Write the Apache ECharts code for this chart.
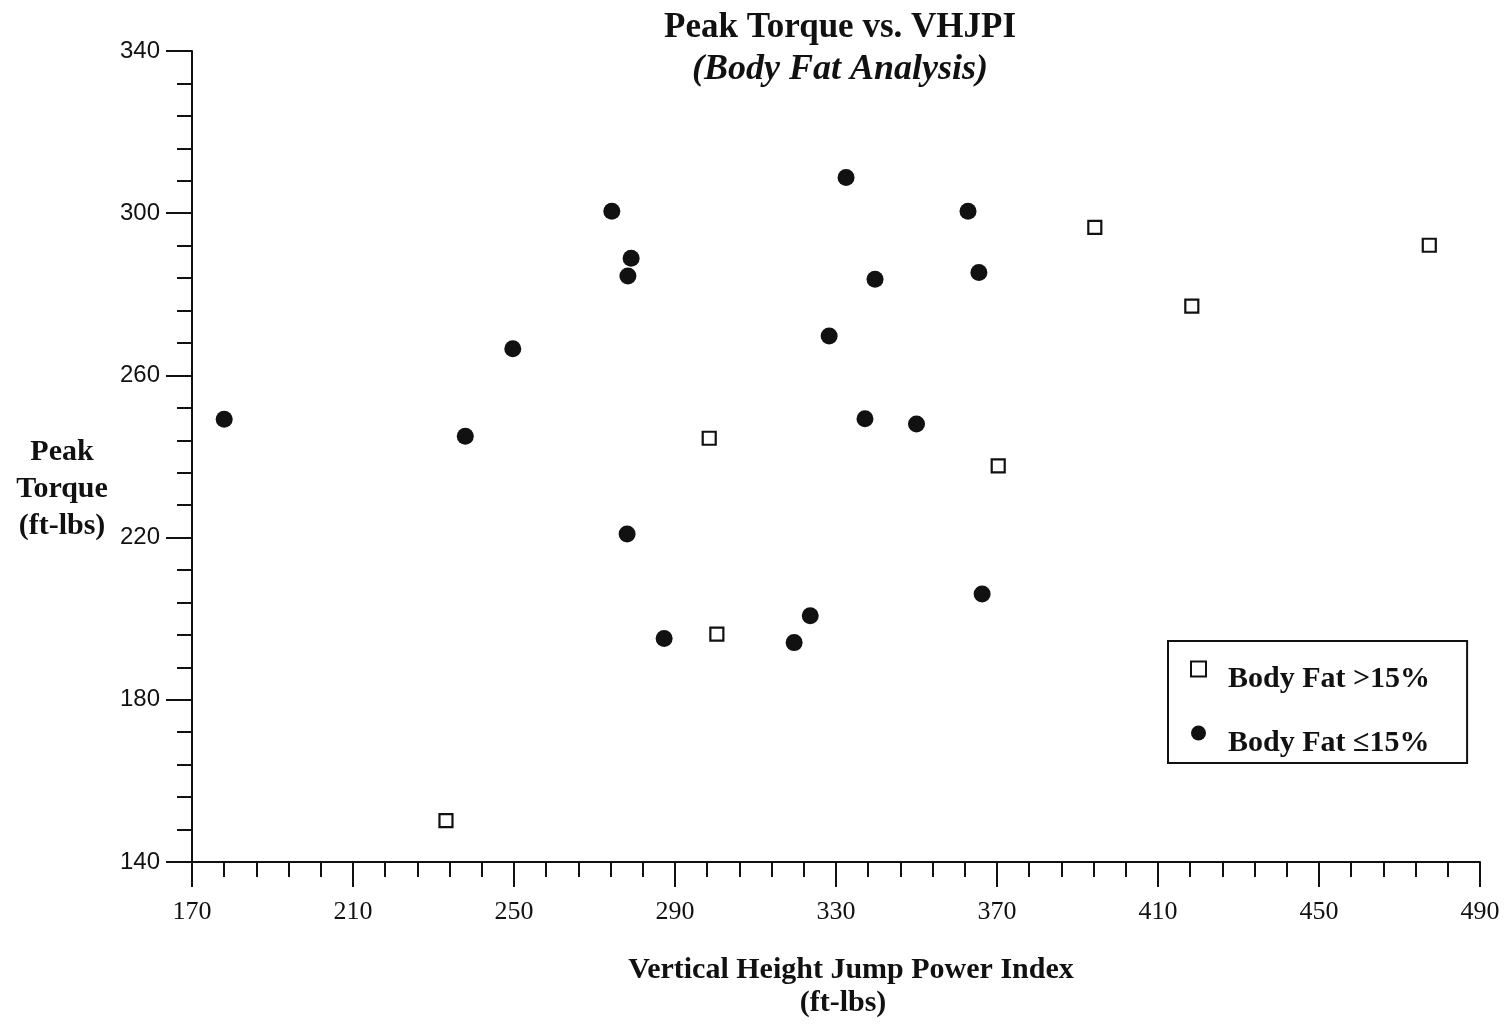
<!DOCTYPE html>
<html>
<head>
<meta charset="utf-8">
<script src="https://cdn.jsdelivr.net/npm/echarts@6/dist/echarts.min.js"></script>
<style>
  html, body { margin: 0; padding: 0; background: #fff; }
  #chart { width: 1507px; height: 1024px; }
</style>
</head>
<body>
<div id="chart"></div>
<script>
// Body Fat <= 15% (filled circles)
const leanX = [178.0, 237.9, 249.7, 274.3, 279.1, 278.3, 278.1, 287.3, 319.6, 323.6, 328.3, 332.5, 337.2, 339.7, 350.0, 362.8, 365.5, 366.3];
const leanY = [249.2, 245.0, 266.6, 300.5, 288.9, 284.5, 220.9, 195.1, 194.1, 200.7, 269.7, 308.8, 249.3, 283.7, 248.0, 300.5, 285.4, 206.1];
// Body Fat > 15% (open squares)
const fatX = [233.1, 298.5, 300.4, 370.3, 394.3, 418.4, 477.4];
const fatY = [150.2, 244.5, 196.2, 237.7, 296.5, 277.1, 292.1];

const xTicks = [170, 210, 250, 290, 330, 370, 410, 450, 490];
const yTicks = [140, 180, 220, 260, 300, 340];

// 5 minor steps between each labelled tick
function minorOf(ticks) {
  const out = [];
  for (let i = 0; i < ticks.length - 1; i++) {
    const step = (ticks[i + 1] - ticks[i]) / 5;
    for (let k = 1; k < 5; k++) out.push(ticks[i] + step * k);
  }
  return out;
}

const ink = '#111';
const serif = '"Liberation Serif", "DejaVu Serif", serif';

const chart = echarts.init(document.getElementById('chart'));

const axisCommon = (min, max) => ({
  type: 'value', min: min, max: max,
  splitLine: { show: false }
});

chart.setOption({
  animation: false,
  backgroundColor: '#fff',
  grid: { left: 192, right: 27, top: 51, bottom: 162 },
  xAxis: [
    Object.assign(axisCommon(170, 490), {
      position: 'bottom',
      axisLine: { lineStyle: { color: ink, width: 2 } },
      axisTick: { inside: false, length: 25, customValues: xTicks, lineStyle: { color: ink, width: 2 } },
      axisLabel: { customValues: xTicks, margin: 37, color: ink, fontFamily: serif, fontSize: 26 }
    }),
    Object.assign(axisCommon(170, 490), {
      position: 'bottom',
      axisLine: { show: false },
      axisTick: { inside: false, length: 15, customValues: minorOf(xTicks), lineStyle: { color: ink, width: 2 } },
      axisLabel: { show: false }
    })
  ],
  yAxis: [
    Object.assign(axisCommon(140, 340), {
      position: 'left',
      axisLine: { show: true, lineStyle: { color: ink, width: 2 } },
      axisTick: { show: true, inside: false, length: 26, customValues: yTicks, lineStyle: { color: ink, width: 2 } },
      axisLabel: { customValues: yTicks, margin: 32, color: ink, fontFamily: '"Liberation Sans", sans-serif', fontSize: 24 }
    }),
    Object.assign(axisCommon(140, 340), {
      position: 'left',
      axisLine: { show: false },
      axisTick: { show: true, inside: false, length: 15, customValues: minorOf(yTicks), lineStyle: { color: ink, width: 2 } },
      axisLabel: { show: false }
    })
  ],
  legend: {
    orient: 'vertical',
    left: 1168, top: 641,
    padding: [3, 37, 5, 22],
    itemGap: 14,
    itemWidth: 15, itemHeight: 15,
    borderColor: ink, borderWidth: 2,
    formatter: name => '{t|' + name + '}',
    textStyle: {
      color: ink,
      rich: {
        t: {
          color: ink, fontFamily: serif, fontWeight: 'bold', fontSize: 30,
          lineHeight: 32, padding: [20, 0, 0, 17]
        }
      }
    },
    data: ['Body Fat >15%', 'Body Fat \u226415%']
  },
  graphic: [
    { type: 'text', x: 840, y: 28, style: { text: 'Peak Torque vs. VHJPI', fill: ink, font: 'bold 35px ' + serif, textAlign: 'center', textVerticalAlign: 'middle' } },
    { type: 'text', x: 840, y: 70, style: { text: '(Body Fat Analysis)', fill: ink, font: 'italic bold 36px ' + serif, textAlign: 'center', textVerticalAlign: 'middle' } },
    { type: 'text', x: 62, y: 489, style: { text: 'Peak\nTorque\n(ft-lbs)', fill: ink, font: 'bold 30px ' + serif, lineHeight: 37, textAlign: 'center', textVerticalAlign: 'middle' } },
    { type: 'text', x: 851, y: 970, style: { text: 'Vertical Height Jump Power Index', fill: ink, font: 'bold 30px ' + serif, textAlign: 'center', textVerticalAlign: 'middle' } },
    { type: 'text', x: 843, y: 1003, style: { text: '(ft-lbs)', fill: ink, font: 'bold 30px ' + serif, textAlign: 'center', textVerticalAlign: 'middle' } }
  ],
  series: [
    {
      name: 'Body Fat >15%',
      type: 'scatter',
      symbol: 'rect',
      symbolSize: 13,
      itemStyle: { color: '#fff', borderColor: ink, borderWidth: 2.2, opacity: 1 },
      data: fatX.map((x, i) => [x, fatY[i]])
    },
    {
      name: 'Body Fat \u226415%',
      type: 'scatter',
      symbol: 'circle',
      symbolSize: 17,
      itemStyle: { color: ink, opacity: 1 },
      data: leanX.map((x, i) => [x, leanY[i]])
    }
  ]
});
</script>
</body>
</html>
